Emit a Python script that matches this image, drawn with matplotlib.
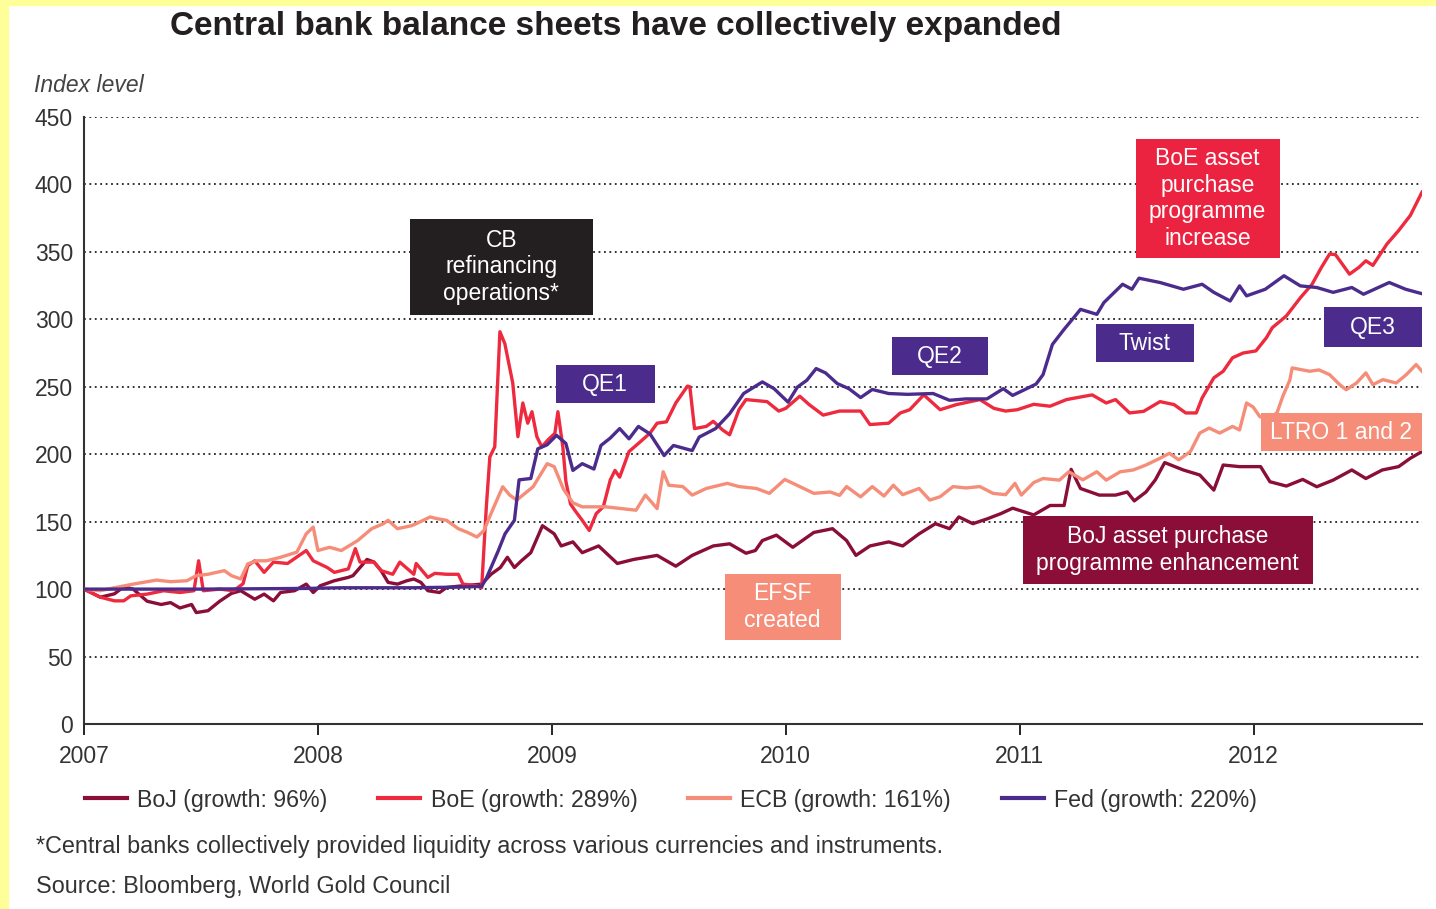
import numpy as np
import matplotlib
matplotlib.use("Agg")
import matplotlib.pyplot as plt
from matplotlib.patches import Rectangle

font = "Liberation Sans"

# data: (decimal year, index level), 1 Jan 2007 = 100
boj = [(2007.00, 100), (2007.07, 94), (2007.13, 96.5), (2007.17, 101.7), (2007.21, 100),
       (2007.27, 91), (2007.33, 88.6), (2007.37, 90), (2007.41, 86), (2007.46, 88.6),
       (2007.48, 82.6), (2007.53, 84), (2007.58, 91), (2007.63, 96.8), (2007.67, 98.8),
       (2007.73, 92.5), (2007.77, 96.3), (2007.81, 91.3), (2007.84, 97.5), (2007.90, 98.8),
       (2007.95, 103.7), (2007.98, 97.5), (2008.01, 102.5), (2008.07, 106.2), (2008.13, 108.7),
       (2008.15, 110), (2008.21, 122), (2008.24, 120), (2008.27, 113.7), (2008.30, 105),
       (2008.34, 103.7), (2008.38, 106.2), (2008.41, 107.5), (2008.44, 105), (2008.47, 98.8),
       (2008.52, 97.5), (2008.55, 101.2), (2008.62, 102.5), (2008.70, 103.7), (2008.74, 111),
       (2008.78, 116), (2008.81, 123.6), (2008.84, 116), (2008.87, 121), (2008.91, 127),
       (2008.96, 147), (2009.01, 141), (2009.04, 132), (2009.09, 135), (2009.13, 127),
       (2009.20, 132), (2009.28, 119), (2009.35, 122), (2009.45, 125), (2009.53, 117),
       (2009.60, 125), (2009.69, 132), (2009.76, 133.6), (2009.83, 126.6), (2009.87, 128.6),
       (2009.90, 136), (2009.96, 140), (2010.03, 131), (2010.12, 142), (2010.20, 144.8),
       (2010.26, 136), (2010.30, 125), (2010.36, 132), (2010.44, 135), (2010.50, 132),
       (2010.57, 141), (2010.64, 148.5), (2010.70, 144.8), (2010.74, 153.5), (2010.80, 148.5),
       (2010.86, 152), (2010.92, 156), (2010.97, 160), (2011.06, 155), (2011.13, 162),
       (2011.19, 162), (2011.22, 188.8), (2011.26, 174.6), (2011.34, 169.7), (2011.41, 169.7),
       (2011.46, 172), (2011.49, 165.4), (2011.54, 172), (2011.58, 181), (2011.62, 193.8),
       (2011.70, 188.3), (2011.77, 184.6), (2011.83, 173.4), (2011.87, 192), (2011.94, 190.8),
       (2012.03, 190.8), (2012.07, 179.6), (2012.14, 176.4), (2012.21, 181.3), (2012.27, 175.9),
       (2012.34, 180.8), (2012.42, 188.3), (2012.48, 182), (2012.55, 188.3), (2012.62, 190.8),
       (2012.67, 197), (2012.72, 202)]

boe = [(2007.00, 100), (2007.07, 94), (2007.13, 91.3), (2007.17, 91.3), (2007.20, 95),
       (2007.27, 96.3), (2007.34, 98.8), (2007.41, 97.5), (2007.47, 98.8), (2007.49, 121),
       (2007.51, 98.8), (2007.58, 100), (2007.64, 98.8), (2007.68, 104), (2007.70, 117.4),
       (2007.73, 121), (2007.77, 112.4), (2007.81, 120), (2007.87, 119), (2007.95, 128.6),
       (2007.98, 121), (2008.04, 116), (2008.07, 112.4), (2008.13, 115), (2008.16, 130),
       (2008.18, 120), (2008.24, 120), (2008.27, 113.7), (2008.32, 111), (2008.35, 120),
       (2008.41, 111), (2008.42, 119), (2008.47, 108.7), (2008.50, 111.7), (2008.55, 111),
       (2008.60, 111), (2008.62, 103.7), (2008.68, 102.5), (2008.70, 101), (2008.72, 161),
       (2008.735, 198), (2008.756, 205.5), (2008.778, 290.8), (2008.799, 282), (2008.833, 252.7),
       (2008.855, 213), (2008.876, 238), (2008.897, 223), (2008.915, 231.5), (2008.936, 213),
       (2008.957, 205.5), (2008.983, 210.5), (2009.013, 215.5), (2009.026, 231.5), (2009.047, 205.5),
       (2009.06, 180), (2009.08, 163), (2009.10, 158), (2009.13, 151), (2009.16, 143.5),
       (2009.19, 156), (2009.22, 161), (2009.25, 181), (2009.27, 188), (2009.29, 183),
       (2009.33, 202), (2009.38, 209.5), (2009.42, 215.7), (2009.45, 223), (2009.49, 224),
       (2009.53, 238), (2009.58, 250.5), (2009.59, 250), (2009.61, 219), (2009.66, 220.6),
       (2009.69, 224.4), (2009.73, 218), (2009.76, 214.4), (2009.80, 233), (2009.83, 240.5),
       (2009.92, 239), (2009.97, 232), (2010.00, 234), (2010.06, 243), (2010.10, 236.8),
       (2010.16, 229), (2010.23, 232), (2010.32, 232), (2010.36, 222), (2010.44, 223),
       (2010.49, 230.6), (2010.53, 233), (2010.59, 244), (2010.66, 233), (2010.73, 236.8),
       (2010.83, 240.5), (2010.89, 234), (2010.94, 232), (2010.99, 233), (2011.06, 237),
       (2011.13, 235.6), (2011.20, 240.5), (2011.31, 244), (2011.37, 238), (2011.41, 240.5),
       (2011.47, 230.6), (2011.53, 231.8), (2011.60, 239), (2011.66, 236.8), (2011.71, 230.6),
       (2011.755, 230.6), (2011.78, 241.7), (2011.83, 256.6), (2011.87, 261.5), (2011.91, 271.5),
       (2011.955, 275), (2012.01, 276.6), (2012.055, 286.4), (2012.08, 293.8), (2012.14, 302.5),
       (2012.20, 316), (2012.25, 326), (2012.29, 338.5), (2012.325, 348.4), (2012.35, 348),
       (2012.41, 333.5), (2012.45, 338.5), (2012.48, 343.4), (2012.51, 340), (2012.57, 355.8),
       (2012.62, 365.8), (2012.67, 377), (2012.72, 394.3)]

ecb = [(2007.00, 100), (2007.07, 98.8), (2007.13, 101), (2007.21, 103.7), (2007.31, 106.7),
       (2007.37, 105.5), (2007.44, 106.2), (2007.48, 110), (2007.53, 111), (2007.60, 113.7),
       (2007.63, 110), (2007.67, 107.5), (2007.70, 118.7), (2007.74, 121), (2007.78, 121),
       (2007.84, 123.6), (2007.91, 127.4), (2007.95, 141), (2007.98, 146), (2008.00, 128.6),
       (2008.05, 131), (2008.10, 128.6), (2008.17, 136), (2008.23, 144.8), (2008.28, 148.5),
       (2008.30, 151), (2008.34, 144.8), (2008.40, 147), (2008.42, 148.5), (2008.48, 153.5),
       (2008.51, 152.2), (2008.55, 151), (2008.60, 144.8), (2008.64, 142), (2008.68, 138.6),
       (2008.71, 143.5), (2008.74, 156), (2008.77, 168), (2008.79, 175.9), (2008.82, 169.7),
       (2008.85, 166), (2008.92, 175.9), (2008.98, 193), (2009.01, 190.8), (2009.05, 174),
       (2009.09, 164), (2009.13, 161), (2009.23, 161), (2009.36, 158.5), (2009.40, 169.7),
       (2009.45, 159.7), (2009.476, 187), (2009.50, 177), (2009.56, 176), (2009.60, 169.7),
       (2009.66, 174.6), (2009.75, 178.4), (2009.80, 176), (2009.875, 174.6), (2009.93, 171),
       (2009.996, 181.3), (2010.06, 176), (2010.12, 171), (2010.19, 172), (2010.23, 169.5),
       (2010.26, 176), (2010.32, 168.4), (2010.37, 176), (2010.42, 169), (2010.46, 177),
       (2010.50, 170), (2010.57, 174.6), (2010.616, 166), (2010.66, 168.5), (2010.715, 176),
       (2010.77, 175), (2010.83, 176), (2010.886, 171), (2010.94, 170), (2010.98, 178.4),
       (2011.007, 169.7), (2011.06, 179), (2011.10, 182), (2011.17, 180.8), (2011.21, 187),
       (2011.27, 181), (2011.33, 187), (2011.37, 180.8), (2011.43, 187), (2011.485, 188.3),
       (2011.54, 192), (2011.60, 197), (2011.64, 200.7), (2011.68, 195.8), (2011.73, 202),
       (2011.77, 215.7), (2011.81, 219.4), (2011.855, 215.7), (2011.91, 220.6), (2011.94, 218),
       (2011.97, 238), (2011.998, 235), (2012.026, 228), (2012.055, 225.6), (2012.10, 230.6),
       (2012.125, 243), (2012.155, 255), (2012.165, 264), (2012.20, 262.8), (2012.24, 261.5),
       (2012.28, 262.5), (2012.325, 259), (2012.368, 251.6), (2012.396, 247.8), (2012.44, 252.8),
       (2012.48, 260.3), (2012.51, 251.6), (2012.553, 255.3), (2012.61, 252.8), (2012.653, 259),
       (2012.695, 266.5), (2012.72, 261.5)]

fed = [(2007.00, 100), (2007.50, 100), (2007.95, 100.5), (2008.10, 101), (2008.40, 101),
       (2008.60, 101.5), (2008.70, 102), (2008.72, 108), (2008.75, 120), (2008.77, 128),
       (2008.80, 141), (2008.84, 151), (2008.86, 181), (2008.91, 182), (2008.94, 204),
       (2008.98, 207), (2009.02, 214), (2009.06, 208), (2009.09, 188), (2009.13, 193),
       (2009.18, 189), (2009.21, 206.5), (2009.25, 212), (2009.29, 219), (2009.33, 211.4),
       (2009.37, 220.6), (2009.42, 215), (2009.48, 199), (2009.52, 206.5), (2009.60, 202.7),
       (2009.63, 212.7), (2009.70, 219), (2009.76, 230), (2009.82, 245), (2009.90, 253.6),
       (2009.95, 248.6), (2010.01, 238.6), (2010.05, 249.8), (2010.09, 254.8), (2010.13, 263.5),
       (2010.17, 260.3), (2010.22, 252.4), (2010.27, 248.6), (2010.32, 242), (2010.37, 248),
       (2010.44, 245), (2010.52, 244.4), (2010.63, 245), (2010.70, 240), (2010.77, 241),
       (2010.86, 241), (2010.93, 248.6), (2010.97, 243.6), (2011.03, 248.6), (2011.07, 252),
       (2011.10, 259), (2011.14, 281.4), (2011.19, 292.6), (2011.23, 301), (2011.26, 307.4),
       (2011.33, 303.7), (2011.36, 312.4), (2011.44, 326), (2011.48, 322.3), (2011.51, 330.5),
       (2011.60, 327.3), (2011.70, 322.3), (2011.78, 326), (2011.83, 320), (2011.90, 313.6),
       (2011.94, 324.8), (2011.97, 317.4), (2012.05, 322.3), (2012.13, 332.3), (2012.20, 324.8),
       (2012.27, 323.6), (2012.34, 320), (2012.42, 323.6), (2012.47, 318.6), (2012.58, 327.3),
       (2012.65, 322.3), (2012.72, 319)]

series_labels = ["BoJ (growth: 96%)", "BoE (growth: 289%)", "ECB (growth: 161%)", "Fed (growth: 220%)"]
year_ticks = [2007, 2008, 2009, 2010, 2011, 2012]
y_ticks = [0, 50, 100, 150, 200, 250, 300, 350, 400, 450]

c_boj = "#8a0e38"
c_boe = "#ee2a3f"
c_ecb = "#f58d78"
c_fed = "#4b2b8c"
txt_col = "#333333"

fig = plt.figure(figsize=(14.36, 9.09), dpi=100)
# yellow page edge
fig.patches.append(Rectangle((0, 0), 8/1436, 1, transform=fig.transFigure, color="#ffff99", zorder=0))
fig.patches.append(Rectangle((0, 1 - 5/909), 1, 5/909, transform=fig.transFigure, color="#ffff99", zorder=0))

ax = fig.add_axes([84/1436, 1 - 724/909, (1422 - 84)/1436, (724 - 117)/909])

for data, col, lab in zip([boj, boe, ecb, fed], [c_boj, c_boe, c_ecb, c_fed], series_labels):
    arr = np.array(data)
    ax.plot(arr[:, 0], arr[:, 1], color=col, lw=2.4, label=lab, zorder=3, solid_joinstyle="round")

ax.set_xlim(2007, 2012.72)
ax.set_ylim(0, 450)
ax.set_xticks(year_ticks)
ax.set_xticklabels([str(y) for y in year_ticks], fontfamily=font, fontsize=16.5, color=txt_col)
ax.set_yticks(y_ticks)
ax.set_yticklabels([str(v) for v in y_ticks], fontfamily=font, fontsize=16.5, color=txt_col)
ax.tick_params(axis="y", length=0, pad=8)
ax.tick_params(axis="x", length=8, width=1.2, direction="out", pad=7)
ax.yaxis.grid(True, linestyle=(0, (1, 2)), lw=1.3, color="#222222")
ax.set_axisbelow(True)
for s in ["top", "right"]:
    ax.spines[s].set_visible(False)
for s in ["left", "bottom"]:
    ax.spines[s].set_linewidth(1.5)
    ax.spines[s].set_color("#333333")

# annotation boxes: (x0, x1, y0, y1) in years / index, text, colour
boxes = [
    ((2008.393, 2009.175, 303.2, 374.4), "CB\nrefinancing\noperations*", "#231f20"),
    ((2009.017, 2009.440, 238.0, 266.1), "QE1", c_fed),
    ((2010.453, 2010.863, 258.7, 286.9), "QE2", c_fed),
    ((2011.325, 2011.744, 268.3, 296.5), "Twist", c_fed),
    ((2012.299, 2012.718, 279.5, 309.1), "QE3", c_fed),
    ((2011.496, 2012.111, 345.4, 433.7), "BoE asset\npurchase\nprogramme\nincrease", "#ec2340"),
    ((2012.030, 2012.718, 202.4, 230.5), "LTRO 1 and 2", c_ecb),
    ((2011.013, 2012.252, 103.8, 154.2), "BoJ asset purchase\nprogramme enhancement", c_boj),
    ((2009.739, 2010.235, 62.3, 111.2), "EFSF\ncreated", c_ecb),
]
for (x0, x1, y0, y1), txt, col in boxes:
    ax.add_patch(Rectangle((x0, y0), x1 - x0, y1 - y0, facecolor=col, edgecolor="none", zorder=4))
    ax.text((x0 + x1) / 2, (y0 + y1) / 2, txt, ha="center", va="center", color="white",
            fontfamily=font, fontsize=16.5, linespacing=1.2, zorder=5)

fig.text(616/1436, 1 - 26/909, "Central bank balance sheets have collectively expanded",
         ha="center", va="center", fontsize=24, fontweight="bold", fontfamily=font, color="#231f20")
fig.text(34/1436, 1 - 85/909, "Index level", ha="left", va="center", fontsize=16.5,
         fontstyle="italic", fontfamily=font, color="#444444")

leg = fig.legend(loc="center left", bbox_to_anchor=(64/1436, 1 - 800/909), ncol=4, frameon=False,
                 prop={"family": font, "size": 16.7}, handlelength=1.8, handletextpad=0.45,
                 columnspacing=2.2)
for t in leg.get_texts():
    t.set_color(txt_col)
for h in leg.legend_handles:
    h.set_linewidth(3)

fig.text(36/1436, 1 - 847/909, "*Central banks collectively provided liquidity across various currencies and instruments.",
         ha="left", va="center", fontsize=16.8, fontfamily=font, color=txt_col)
fig.text(36/1436, 1 - 887/909, "Source: Bloomberg, World Gold Council",
         ha="left", va="center", fontsize=16.8, fontfamily=font, color=txt_col)

fig.savefig("out.png", dpi=100)
